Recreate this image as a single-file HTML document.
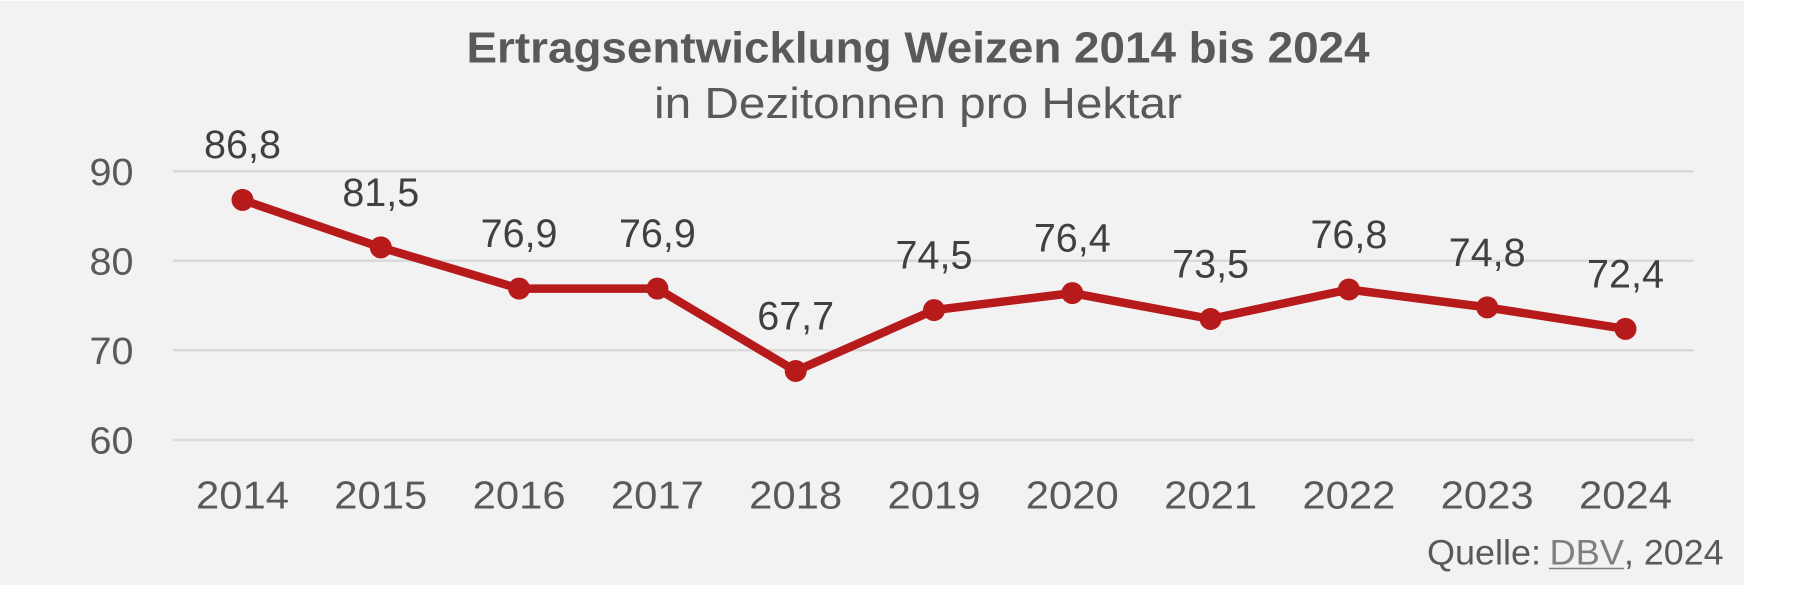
<!DOCTYPE html>
<html><head><meta charset="utf-8"><style>
html,body{margin:0;padding:0;background:#fff;}
svg{display:block;}
</style></head><body>
<svg width="1812" height="594" viewBox="0 0 1812 594" xmlns="http://www.w3.org/2000/svg">
<rect x="0" y="0" width="1812" height="594" fill="#ffffff"/>
<rect x="0" y="1" width="1744" height="584" fill="#f2f2f2"/>
<g font-family="Liberation Sans, Arial, sans-serif">
<text x="918" y="62.5" text-anchor="middle" font-size="44" font-weight="bold" fill="#595959" textLength="903" lengthAdjust="spacingAndGlyphs">Ertragsentwicklung Weizen 2014 bis 2024</text>
<text x="918" y="118" text-anchor="middle" font-size="44" fill="#595959" textLength="528" lengthAdjust="spacingAndGlyphs">in Dezitonnen pro Hektar</text>
</g>
<g stroke="#d9d9d9" stroke-width="2.5">
<line x1="173" y1="171.4" x2="1694" y2="171.4"/>
<line x1="173" y1="260.8" x2="1694" y2="260.8"/>
<line x1="173" y1="350.2" x2="1694" y2="350.2"/>
<line x1="173" y1="440" x2="1694" y2="440"/>
</g>
<g font-family="Liberation Sans, Arial, sans-serif" font-size="38" fill="#595959" text-anchor="end">
<text x="133.5" y="185" textLength="44" lengthAdjust="spacingAndGlyphs">90</text>
<text x="133.5" y="274.4" textLength="44" lengthAdjust="spacingAndGlyphs">80</text>
<text x="133.5" y="363.8" textLength="44" lengthAdjust="spacingAndGlyphs">70</text>
<text x="133.5" y="453.6" textLength="44" lengthAdjust="spacingAndGlyphs">60</text>
</g>
<g font-family="Liberation Sans, Arial, sans-serif" font-size="38.5" fill="#595959" text-anchor="middle">
<text x="242.5" y="508.5" textLength="93" lengthAdjust="spacingAndGlyphs">2014</text>
<text x="380.8" y="508.5" textLength="93" lengthAdjust="spacingAndGlyphs">2015</text>
<text x="519.1" y="508.5" textLength="93" lengthAdjust="spacingAndGlyphs">2016</text>
<text x="657.4" y="508.5" textLength="93" lengthAdjust="spacingAndGlyphs">2017</text>
<text x="795.7" y="508.5" textLength="93" lengthAdjust="spacingAndGlyphs">2018</text>
<text x="934.0" y="508.5" textLength="93" lengthAdjust="spacingAndGlyphs">2019</text>
<text x="1072.3" y="508.5" textLength="93" lengthAdjust="spacingAndGlyphs">2020</text>
<text x="1210.6" y="508.5" textLength="93" lengthAdjust="spacingAndGlyphs">2021</text>
<text x="1348.9" y="508.5" textLength="93" lengthAdjust="spacingAndGlyphs">2022</text>
<text x="1487.2" y="508.5" textLength="93" lengthAdjust="spacingAndGlyphs">2023</text>
<text x="1625.5" y="508.5" textLength="93" lengthAdjust="spacingAndGlyphs">2024</text>
</g>
<polyline fill="none" stroke="#b71a1b" stroke-width="8.5" stroke-linejoin="round" points="242.5,199.9 380.8,247.4 519.1,288.6 657.4,288.6 795.7,371.0 934.0,310.1 1072.3,293.1 1210.6,319.0 1348.9,289.5 1487.2,307.4 1625.5,328.9"/>
<g fill="#b71a1b">
<circle cx="242.5" cy="199.9" r="11"/>
<circle cx="380.8" cy="247.4" r="11"/>
<circle cx="519.1" cy="288.6" r="11"/>
<circle cx="657.4" cy="288.6" r="11"/>
<circle cx="795.7" cy="371.0" r="11"/>
<circle cx="934.0" cy="310.1" r="11"/>
<circle cx="1072.3" cy="293.1" r="11"/>
<circle cx="1210.6" cy="319.0" r="11"/>
<circle cx="1348.9" cy="289.5" r="11"/>
<circle cx="1487.2" cy="307.4" r="11"/>
<circle cx="1625.5" cy="328.9" r="11"/>
</g>
<g font-family="Liberation Sans, Arial, sans-serif" font-size="39.5" fill="#404040" text-anchor="middle">
<text x="242.5" y="158.2">86,8</text>
<text x="380.8" y="205.8">81,5</text>
<text x="519.1" y="247">76,9</text>
<text x="657.4" y="247">76,9</text>
<text x="795.7" y="329.5">67,7</text>
<text x="934.0" y="268.6">74,5</text>
<text x="1072.3" y="251.6">76,4</text>
<text x="1210.6" y="277.5">73,5</text>
<text x="1348.9" y="248">76,8</text>
<text x="1487.2" y="265.9">74,8</text>
<text x="1625.5" y="287.4">72,4</text>
</g>
<g font-family="Liberation Sans, Arial, sans-serif" font-size="35">
<text x="1427" y="564.3" fill="#595959" textLength="114" lengthAdjust="spacingAndGlyphs">Quelle:</text>
<text x="1549.5" y="564.3" fill="#7f7f7f" textLength="74.5" lengthAdjust="spacingAndGlyphs">DBV</text>
<text x="1624" y="564.3" fill="#595959" textLength="99.5" lengthAdjust="spacingAndGlyphs">, 2024</text>
</g>
<line x1="1549" y1="568.5" x2="1624" y2="568.5" stroke="#7f7f7f" stroke-width="1.6"/>
</svg>
</body></html>
